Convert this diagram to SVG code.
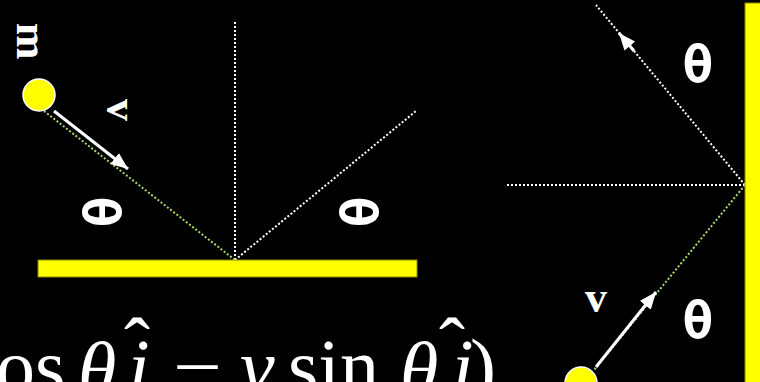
<svg xmlns="http://www.w3.org/2000/svg" width="760" height="382" viewBox="0 0 760 382">
<defs>
<style>
.dotw{stroke:#ffffff;stroke-width:2;stroke-dasharray:2 2;fill:none}
.dotg{stroke:#a6d96a;stroke-width:2;stroke-dasharray:2 2;fill:none}
.arr{stroke:#ffffff;stroke-width:3;fill:none;marker-end:url(#ah)}
.ball{fill:#ffff00;stroke:#ffffff;stroke-width:1.5}
.wall{fill:#ffff00;stroke:#8a8a00;stroke-width:1}
.lbl{font-family:"Liberation Serif",serif;font-weight:bold;fill:#ffffff}
.th{font-family:"DejaVu Sans Mono",monospace;font-weight:bold;fill:#ffffff;font-size:52px}
.eq{font-family:"Liberation Serif",serif;fill:#ffffff;font-size:78px}
.eqi{font-family:"Liberation Serif",serif;font-style:italic;fill:#ffffff;font-size:78px}
</style>
<marker id="ah" markerUnits="userSpaceOnUse" markerWidth="18" markerHeight="14" refX="17" refY="7" orient="auto">
<path d="M0,0 L17,7 L0,14 z" fill="#ffffff"/>
</marker>
</defs>
<rect x="0" y="0" width="760" height="382" fill="#000000"/>
<g id="connectors">
<line class="dotw" x1="235" y1="22" x2="235" y2="260"/>
<line class="dotg" x1="44" y1="111" x2="235" y2="260"/>
<line class="dotw" x1="235" y1="260" x2="416" y2="111"/>
<line class="dotw" x1="507" y1="185" x2="745" y2="185"/>
<line class="dotw" x1="745" y1="185" x2="596" y2="5"/>
<line class="dotg" x1="745" y1="185" x2="594" y2="370"/>
<line class="arr" x1="54" y1="111" x2="128" y2="169"/>
<line class="arr" x1="634" y1="51" x2="619" y2="33"/>
<line class="arr" x1="596" y1="367" x2="656" y2="292"/>
</g>
<g id="floor"><rect class="wall" x="38" y="260" width="379" height="17"/></g>
<g id="wall"><rect class="wall" x="745" y="3" width="20" height="385"/></g>
<g id="ball-left"><circle class="ball" cx="39" cy="95" r="16"/></g>
<g id="ball-right"><circle class="ball" cx="581" cy="383" r="16"/></g>
<g id="labels">
<text class="lbl" font-size="44" text-anchor="middle" transform="translate(17,41) rotate(90)">m</text>
<text class="lbl" font-size="44" text-anchor="middle" transform="translate(107,110) rotate(90)">v</text>
<text class="lbl" font-size="44" text-anchor="middle" x="596" y="312">v</text>
<text class="th" text-anchor="middle" transform="translate(83,212) rotate(90)">θ</text>
<text class="th" text-anchor="middle" transform="translate(340,212) rotate(90)">θ</text>
<text class="th" text-anchor="middle" x="698" y="82">θ</text>
<text class="th" text-anchor="middle" x="698" y="338">θ</text>
</g>
<g id="equation">
<text class="eq" x="-4" y="393">os</text>
<text class="eqi" x="78" y="396" font-size="100">θ</text>
<text class="eqi" x="128" y="393">i</text>
<text class="eq" x="124" y="372">ˆ</text>
<text class="eq" x="173" y="393" textLength="49" lengthAdjust="spacingAndGlyphs">−</text>
<text class="eqi" x="240" y="393">v</text>
<text class="eq" x="288" y="393">sin</text>
<text class="eqi" x="400" y="396" font-size="100">θ</text>
<text class="eqi" x="452" y="393">i</text>
<text class="eq" x="439" y="372">ˆ</text>
<text class="eq" x="470" y="393">)</text>
</g>
</svg>
